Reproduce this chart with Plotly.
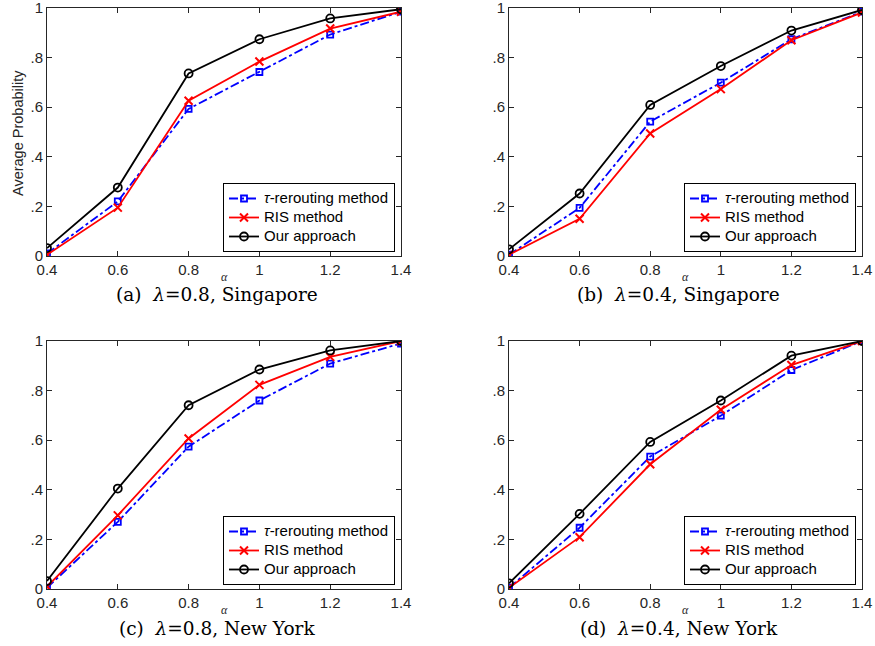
import plotly.graph_objects as go

alpha = [0.4, 0.6, 0.8, 1.0, 1.2, 1.4]
x_tick_vals = [0.4, 0.6, 0.8, 1.0, 1.2, 1.4]
x_tick_text = ["0.4", "0.6", "0.8", "1", "1.2", "1.4"]
y_tick_vals = [0, 0.2, 0.4, 0.6, 0.8, 1.0]
y_tick_text = ["0", ".2", ".4", ".6", ".8", "1"]

series_names = ["<i>τ</i>-rerouting method", "RIS method", "Our approach"]

# (a) lambda=0.8, Singapore
a_tau = [0.01, 0.22, 0.593, 0.742, 0.893, 0.985]
a_ris = [0.005, 0.195, 0.626, 0.784, 0.917, 0.985]
a_our = [0.032, 0.276, 0.736, 0.874, 0.958, 0.995]
# (b) lambda=0.4, Singapore
b_tau = [0.005, 0.194, 0.542, 0.699, 0.874, 0.985]
b_ris = [0.005, 0.15, 0.494, 0.673, 0.870, 0.982]
b_our = [0.027, 0.252, 0.609, 0.766, 0.909, 0.992]
# (c) lambda=0.8, New York
c_tau = [0.005, 0.271, 0.574, 0.76, 0.909, 0.99]
c_ris = [0.01, 0.297, 0.607, 0.823, 0.936, 1.0]
c_our = [0.032, 0.405, 0.741, 0.885, 0.962, 1.0]
# (d) lambda=0.4, New York
d_tau = [0.005, 0.247, 0.534, 0.699, 0.883, 1.0]
d_ris = [0.005, 0.209, 0.503, 0.723, 0.903, 1.0]
d_our = [0.023, 0.303, 0.593, 0.76, 0.941, 1.0]

captions = ["(a)  <i>λ</i>=0.8, Singapore", "(b)  <i>λ</i>=0.4, Singapore",
            "(c)  <i>λ</i>=0.8, New York", "(d)  <i>λ</i>=0.4, New York"]

panels = [(a_tau, a_ris, a_our), (b_tau, b_ris, b_our),
          (c_tau, c_ris, c_our), (d_tau, d_ris, d_our)]

W, H = 875, 646
# pixel layouts of each plot area: (x0, x1, ytop, ybottom)
boxes = [(47, 401, 8, 256), (509, 862, 8, 256), (47, 401, 341, 589), (509, 862, 341, 589)]

fig = go.Figure()
axis_color = "#262626"
tick_font = dict(family="Liberation Sans, Arial", size=15, color=axis_color)

for i, (tau, ris, our) in enumerate(panels):
    n = "" if i == 0 else str(i + 1)
    xa, ya = "x" + n, "y" + n
    leg = "legend" + n
    styles = [
        (tau, dict(color="#0000ff", width=1.8, dash="dashdot"),
         dict(symbol="square-open", size=6, color="#0000ff", line=dict(width=1.8, color="#0000ff"))),
        (ris, dict(color="#ff0000", width=1.8),
         dict(symbol="x-thin", size=8, color="#ff0000", line=dict(width=2, color="#ff0000"))),
        (our, dict(color="#000000", width=1.8),
         dict(symbol="circle-open", size=8, color="#000000", line=dict(width=1.8, color="#000000"))),
    ]
    for (vals, ln, mk), name in zip(styles, series_names):
        fig.add_trace(go.Scatter(x=alpha, y=vals, mode="lines+markers",
                                 name='<span style="font-size:15px">' + name + '</span>',
                                 line=ln, marker=mk, xaxis=xa, yaxis=ya, legend=leg,
                                 showlegend=True))
    x0, x1, yt, yb = boxes[i]
    fig.layout["xaxis" + n] = dict(
        domain=[x0 / W, x1 / W], anchor=ya, range=[0.4, 1.4], automargin=False,
        tickvals=x_tick_vals, ticktext=x_tick_text, ticks="inside", ticklen=5,
        tickcolor=axis_color, showline=True, linecolor=axis_color, linewidth=1,
        mirror="allticks", showgrid=False, zeroline=False, tickfont=tick_font,
        ticklabeloverflow="allow")
    fig.layout["yaxis" + n] = dict(
        domain=[1 - yb / H, 1 - yt / H], anchor=xa, range=[0, 1], automargin=False,
        tickvals=y_tick_vals, ticktext=y_tick_text, ticks="inside", ticklen=5,
        tickcolor=axis_color, showline=True, linecolor=axis_color, linewidth=1,
        mirror="allticks", showgrid=False, zeroline=False, tickfont=tick_font,
        ticklabeloverflow="allow")
    fig.layout[leg] = dict(
        x=(x1 - 6) / W, y=1 - (yb - 4) / H, xanchor="right", yanchor="bottom",
        bgcolor="white", bordercolor="black", borderwidth=1,
        font=dict(family="Liberation Sans, Arial", size=11, color="black"),
        tracegroupgap=0, itemwidth=30)
    cx = (x0 + x1) / 2
    fig.add_annotation(text="<i>α</i>", x=cx / W, y=1 - (yb + 21) / H, xref="paper", yref="paper",
                       xanchor="center", yanchor="middle", showarrow=False,
                       font=dict(family="Liberation Serif", size=12, color=axis_color))
    fig.add_annotation(text=captions[i], x=(cx - 7) / W, y=1 - (yb + 39) / H, xref="paper", yref="paper",
                       xanchor="center", yanchor="middle", showarrow=False,
                       font=dict(family="DejaVu Serif", size=18.5, color="black"))

fig.add_annotation(text="Average Probability", x=18 / W, y=1 - 133 / H, xref="paper", yref="paper",
                   xanchor="center", yanchor="middle", textangle=-90, showarrow=False,
                   font=dict(family="Liberation Sans, Arial", size=14.5, color=axis_color))

fig.update_layout(width=W, height=H, margin=dict(l=0, r=0, t=0, b=0),
                  plot_bgcolor="white", paper_bgcolor="white", autosize=False)

fig.write_html("out.html")
